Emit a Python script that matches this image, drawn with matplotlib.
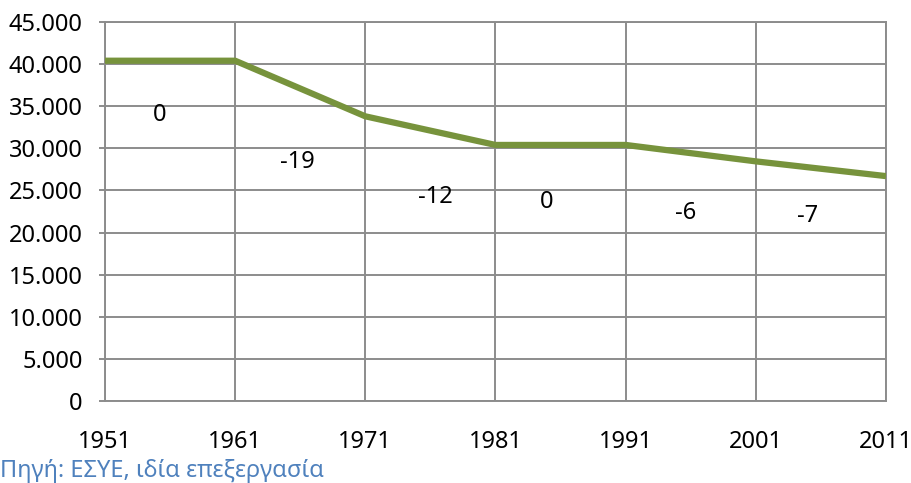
import matplotlib.pyplot as plt

plt.rcParams['font.family'] = ['Noto Sans', 'DejaVu Sans']

# data
years = [1951, 1961, 1971, 1981, 1991, 2001, 2011]
values = [40400, 40400, 33800, 30400, 30400, 28450, 26700]
change_labels = ['0', '-19', '-12', '0', '-6', '-7']
label_x = [1955.2, 1965.8, 1976.4, 1984.9, 1995.6, 2005.0]
label_y = [33960, 28380, 24220, 23630, 22320, 21970]
y_ticks = list(range(0, 45001, 5000))

grid_col = '#8c8c8c'
fs = 17

fig = plt.figure(figsize=(9.12, 4.83), dpi=100)
ax = fig.add_axes([0.1151, 0.1698, 0.8564, 0.7847])

ax.plot(years, values, color='#77933C', lw=4.5, solid_capstyle='butt', zorder=3)

for t, x, y in zip(change_labels, label_x, label_y):
    ax.text(x, y, t, ha='center', va='center', fontsize=fs, color='black')

ax.set_xlim(years[0], years[-1])
ax.set_ylim(0, 45000)
ax.set_xticks(years)
ax.set_yticks(y_ticks)
ax.set_yticklabels([f'{v:,}'.replace(',', '.') for v in y_ticks])
ax.grid(True, color=grid_col, lw=1.4)
ax.set_axisbelow(True)
for s in ax.spines.values():
    s.set_color(grid_col)
    s.set_linewidth(1.4)
ax.tick_params(axis='y', length=4, width=1.4, color=grid_col, pad=12, labelsize=fs)
ax.tick_params(axis='x', length=0, pad=21, labelsize=fs)

fig.text(0.0, 0.012, 'Πηγή: ΕΣΥΕ, ιδία επεξεργασία', color='#4F81BD', fontsize=fs,
         ha='left', va='baseline')

fig.savefig('out.png', dpi=100)
